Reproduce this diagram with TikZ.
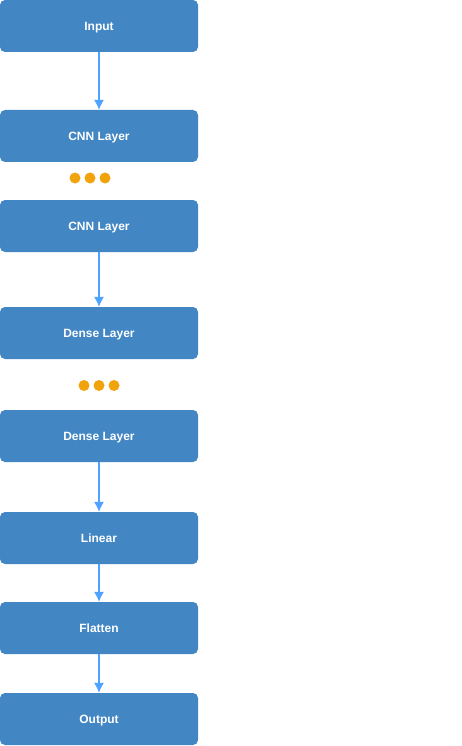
\documentclass[tikz,border=0pt]{standalone}
\usepackage{fontspec}
\setmainfont{Liberation Sans}
\usetikzlibrary{arrows.meta}

\definecolor{layerblue}{RGB}{66,134,196}
\definecolor{arcblue}{RGB}{77,163,255}
\definecolor{dotorange}{RGB}{240,163,10}

\tikzstyle{layerbox}=[fill=layerblue,text=white,rounded corners=5pt,minimum width=198pt,minimum height=52pt,inner sep=0pt,text depth=0pt,font=\fontsize{12}{14}\selectfont\bfseries]
\tikzstyle{orientedarc}=[-{Latex[length=10pt,width=10pt]},draw=arcblue,fill=arcblue,line width=1.2pt]
\tikzstyle{moredot}=[fill=dotorange]

\begin{document}
\begin{tikzpicture}[x=1pt,y=-1pt]
\useasboundingbox (0,0) rectangle (462,746);

\node[layerbox] (IN) at (99,26) {Input};
\node[layerbox] (CNN1) at (99,136) {CNN Layer};
\node[layerbox] (CNN2) at (99,226) {CNN Layer};
\node[layerbox] (DENSE1) at (99,333) {Dense Layer};
\node[layerbox] (DENSE2) at (99,436) {Dense Layer};
\node[layerbox] (LIN) at (99,538) {Linear};
\node[layerbox] (FLAT) at (99,628) {Flatten};
\node[layerbox] (OUT) at (99,719) {Output};

\fill[moredot] (75,178) circle (5.5pt) (90,178) circle (5.5pt) (105,178) circle (5.5pt);
\fill[moredot] (84,385.5) circle (5.5pt) (99,385.5) circle (5.5pt) (114,385.5) circle (5.5pt);

\draw[orientedarc] (IN) -- (CNN1);
\draw[orientedarc] (CNN2) -- (DENSE1);
\draw[orientedarc] (DENSE2) -- (LIN);
\draw[orientedarc] (LIN) -- (FLAT);
\draw[orientedarc] (FLAT) -- (OUT);

\end{tikzpicture}
\end{document}
